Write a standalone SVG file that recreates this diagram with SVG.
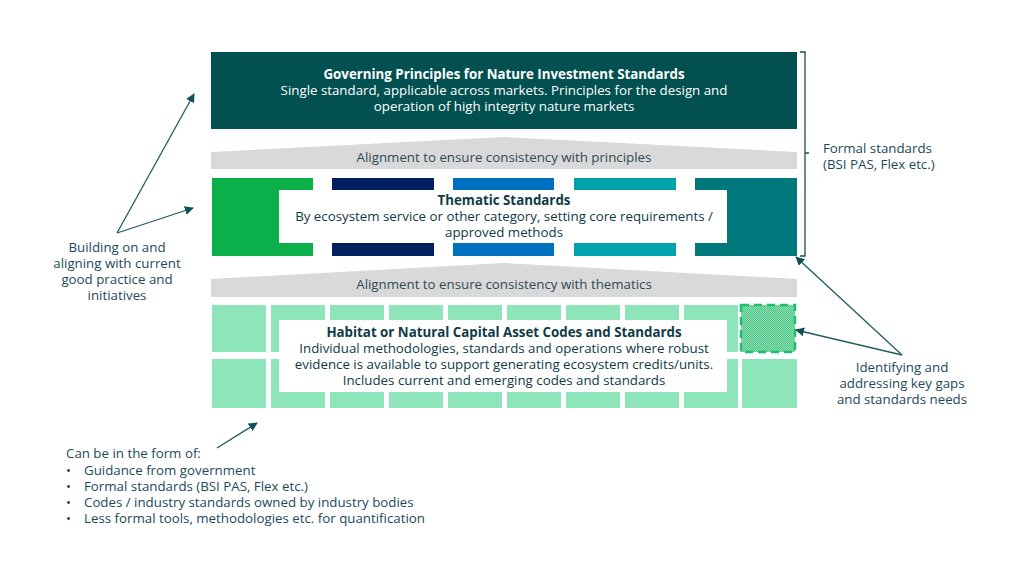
<svg xmlns="http://www.w3.org/2000/svg" width="1024" height="565" viewBox="0 0 1024 565">
<defs>
<style>
text{font-family:"Open Sans","Noto Sans","Liberation Sans",sans-serif;font-size:13.3px}
.w{fill:#ffffff}
.d{fill:#0f3b45}
.g{fill:#2e4b52}
.a{fill:#1d4a58}
.b{font-weight:bold}
.c{text-anchor:middle}
.grey{fill:#d9d9d9}
.cell{fill:#8fe5ba}
.conn{stroke:#1f5c63;stroke-width:1.3;fill:none}
</style>
<marker id="ah" viewBox="0 0 10 10" refX="9" refY="5" markerWidth="9" markerHeight="9" markerUnits="userSpaceOnUse" orient="auto">
<path d="M0,0 L10,5 L0,10 Z" fill="#0f4f55"/>
</marker>
<pattern id="dots" width="2" height="2" patternUnits="userSpaceOnUse">
<rect width="2" height="2" fill="#8fe0b6"/>
<rect width="1" height="1" fill="#4cc486"/>
<rect x="1" y="1" width="1" height="1" fill="#4cc486"/>
</pattern>
</defs>
<rect width="1024" height="565" fill="#ffffff"/>

<g id="governing">
<rect x="211" y="52" width="586" height="77" fill="#02504f"/>
<text class="w b c" x="504" y="79">Governing Principles for Nature Investment Standards</text>
<text class="w c" x="504" y="95">Single standard, applicable across markets. Principles for the design and</text>
<text class="w c" x="504" y="111">operation of high integrity nature markets</text>
</g>

<g id="alignment-principles">
<polygon class="grey" points="211,152 504,137 797,152 797,169 211,169"/>
<text class="g c" x="504" y="162">Alignment to ensure consistency with principles</text>
</g>

<g id="thematic">
<rect x="212" y="178" width="101" height="78" fill="#0bb04b"/>
<rect x="332" y="178" width="102" height="78" fill="#002060"/>
<rect x="453" y="178" width="101" height="78" fill="#0070c0"/>
<rect x="574" y="178" width="102" height="78" fill="#00a3ab"/>
<rect x="695" y="178" width="102" height="78" fill="#00797c"/>
<rect x="279" y="190" width="448" height="53" fill="#ffffff"/>
<text class="d b c" x="504" y="205">Thematic Standards</text>
<text class="d c" x="504" y="221">By ecosystem service or other category, setting core requirements /</text>
<text class="d c" x="504" y="237">approved methods</text>
</g>

<g id="alignment-thematics">
<polygon class="grey" points="211,279 504,263 797,279 797,297 211,297"/>
<text class="g c" x="504" y="289">Alignment to ensure consistency with thematics</text>
</g>

<g id="habitat">
<rect class="cell" x="212" y="305" width="54" height="47"/>
<rect class="cell" x="271" y="305" width="54" height="47"/>
<rect class="cell" x="330" y="305" width="54" height="47"/>
<rect class="cell" x="389" y="305" width="54" height="47"/>
<rect class="cell" x="448" y="305" width="54" height="47"/>
<rect class="cell" x="507" y="305" width="54" height="47"/>
<rect class="cell" x="566" y="305" width="54" height="47"/>
<rect class="cell" x="625" y="305" width="54" height="47"/>
<rect class="cell" x="684" y="305" width="54" height="47"/>
<rect class="cell" x="212" y="359" width="54" height="49"/>
<rect class="cell" x="271" y="359" width="54" height="49"/>
<rect class="cell" x="330" y="359" width="54" height="49"/>
<rect class="cell" x="389" y="359" width="54" height="49"/>
<rect class="cell" x="448" y="359" width="54" height="49"/>
<rect class="cell" x="507" y="359" width="54" height="49"/>
<rect class="cell" x="566" y="359" width="54" height="49"/>
<rect class="cell" x="625" y="359" width="54" height="49"/>
<rect class="cell" x="684" y="359" width="54" height="49"/>
<rect class="cell" x="742" y="359" width="55" height="49"/>
<rect x="279" y="320" width="448" height="72" fill="#ffffff"/>
<text class="d b c" x="504" y="337">Habitat or Natural Capital Asset Codes and Standards</text>
<text class="d c" x="504" y="353">Individual methodologies, standards and operations where robust</text>
<text class="d c" x="504" y="369">evidence is available to support generating ecosystem credits/units.</text>
<text class="d c" x="504" y="385">Includes current and emerging codes and standards</text>
</g>

<g id="gap-cell">
<rect x="741" y="305" width="54" height="47" fill="url(#dots)" stroke="#1dbf67" stroke-width="2.5" stroke-dasharray="8,5"/>
</g>

<g id="formal-bracket">
<path d="M800,52 H805 V256 H800 M805,153 H809" fill="none" stroke="#1f4a55" stroke-width="1.3"/>
<text class="a" x="823" y="153">Formal standards</text>
<text class="a" x="823" y="169">(BSI PAS, Flex etc.)</text>
</g>

<g id="building-note">
<text class="a c" x="117" y="252">Building on and</text>
<text class="a c" x="117" y="268">aligning with current</text>
<text class="a c" x="117" y="284">good practice and</text>
<text class="a c" x="117" y="300">initiatives</text>
</g>

<g id="gaps-note">
<text class="a c" x="902" y="372">Identifying and</text>
<text class="a c" x="902" y="388">addressing key gaps</text>
<text class="a c" x="902" y="404">and standards needs</text>
</g>

<g id="forms-note">
<text class="a" x="66" y="458">Can be in the form of:</text>
<text class="a" x="66" y="475">•</text><text class="a" x="84" y="475">Guidance from government</text>
<text class="a" x="66" y="491">•</text><text class="a" x="84" y="491">Formal standards (BSI PAS, Flex etc.)</text>
<text class="a" x="66" y="507">•</text><text class="a" x="84" y="507">Codes / industry standards owned by industry bodies</text>
<text class="a" x="66" y="523">•</text><text class="a" x="84" y="523">Less formal tools, methodologies etc. for quantification</text>
</g>

<g id="connectors">
<line class="conn" x1="117" y1="233" x2="194" y2="94" marker-end="url(#ah)"/>
<line class="conn" x1="117" y1="233" x2="193" y2="208" marker-end="url(#ah)"/>
<line class="conn" x1="902" y1="355" x2="796" y2="257" marker-end="url(#ah)"/>
<line class="conn" x1="902" y1="355" x2="796" y2="330" marker-end="url(#ah)"/>
<line class="conn" x1="217" y1="448" x2="257" y2="423" marker-end="url(#ah)"/>
</g>
</svg>
